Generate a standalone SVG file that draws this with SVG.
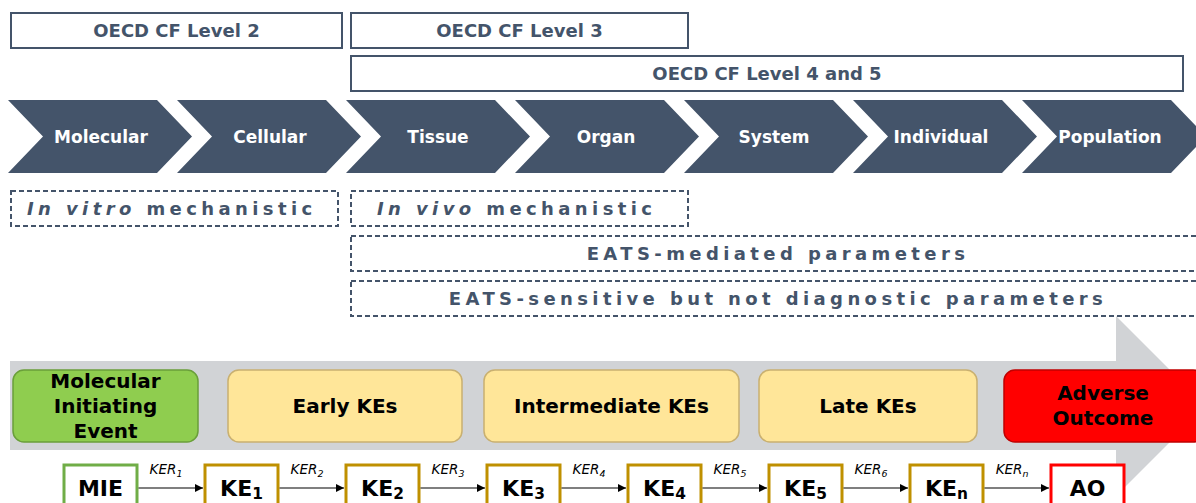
<svg xmlns="http://www.w3.org/2000/svg" width="1196" height="503" viewBox="0 0 1196 503">
<defs>
<style>
.lvl{fill:#fff;stroke:#44546a;stroke-width:2}
.lvlt{font-family:"DejaVu Sans",sans-serif;font-weight:bold;font-size:18px;fill:#44546a;text-anchor:middle}
.chev{fill:#44546a}
.chevt{font-family:"DejaVu Sans",sans-serif;font-weight:bold;font-size:17px;fill:#fff;text-anchor:middle}
.dash{fill:#fff;stroke:#44546a;stroke-width:2;stroke-dasharray:5 3}
.dasht{font-family:"DejaVu Sans",sans-serif;font-weight:bold;font-size:18px;fill:#44546a;letter-spacing:4.4px}
.phase{font-family:"DejaVu Sans",sans-serif;font-weight:bold;font-size:20px;fill:#000;text-anchor:middle}
.ke{fill:#fff;stroke:#bf9000;stroke-width:3}
.ket{font-family:"DejaVu Sans",sans-serif;font-weight:bold;font-size:22px;fill:#000;text-anchor:middle}
.ker{font-family:"DejaVu Sans",sans-serif;font-style:italic;font-size:13.5px;fill:#000;text-anchor:middle}
.sub{font-size:0.7em}
.conn{stroke:#000;stroke-width:1.2;fill:none;marker-end:url(#ah)}
</style>
<marker id="ah" viewBox="0 0 10 10" refX="10" refY="5" markerWidth="8" markerHeight="8" markerUnits="userSpaceOnUse" orient="auto">
<path d="M0,0 L10,5 L0,10 z" fill="#000"/>
</marker>
</defs>
<rect width="1196" height="503" fill="#fff"/>

<g id="level2"><rect class="lvl" x="11" y="13" width="331" height="35"/><text class="lvlt" x="176.5" y="37">OECD CF Level 2</text></g>
<g id="level3"><rect class="lvl" x="351" y="13" width="337" height="35"/><text class="lvlt" x="519.5" y="37">OECD CF Level 3</text></g>
<g id="level45"><rect class="lvl" x="351" y="56" width="832" height="35"/><text class="lvlt" x="767" y="80">OECD CF Level 4 and 5</text></g>

<g id="chev-molecular"><polygon class="chev" points="8,100 157,100 192,136.5 157,173 8,173 43,136.5"/><text class="chevt" x="101" y="143">Molecular</text></g>
<g id="chev-cellular"><polygon class="chev" points="177,100 326,100 361,136.5 326,173 177,173 212,136.5"/><text class="chevt" x="270" y="143">Cellular</text></g>
<g id="chev-tissue"><polygon class="chev" points="346,100 495,100 530,136.5 495,173 346,173 381,136.5"/><text class="chevt" x="438" y="143">Tissue</text></g>
<g id="chev-organ"><polygon class="chev" points="515,100 664,100 699,136.5 664,173 515,173 550,136.5"/><text class="chevt" x="606" y="143">Organ</text></g>
<g id="chev-system"><polygon class="chev" points="684,100 833,100 868,136.5 833,173 684,173 719,136.5"/><text class="chevt" x="774" y="143">System</text></g>
<g id="chev-individual"><polygon class="chev" points="853,100 1002,100 1037,136.5 1002,173 853,173 888,136.5"/><text class="chevt" x="941" y="143">Individual</text></g>
<g id="chev-population"><polygon class="chev" points="1022,100 1171,100 1206,136.5 1171,173 1022,173 1057,136.5"/><text class="chevt" x="1110" y="143">Population</text></g>

<g id="invitro"><rect class="dash" x="11" y="191" width="327" height="35"/><text class="dasht" x="27" y="215"><tspan font-style="italic">In vitro</tspan> mechanistic</text></g>
<g id="invivo"><rect class="dash" x="351" y="191" width="337" height="35"/><text class="dasht" x="377" y="215"><tspan font-style="italic">In vivo</tspan> mechanistic</text></g>
<g id="eats-mediated"><rect class="dash" x="351" y="236" width="860" height="35"/><text class="dasht" x="778" y="260" text-anchor="middle">EATS-mediated parameters</text></g>
<g id="eats-sensitive"><rect class="dash" x="351" y="281" width="860" height="35"/><text class="dasht" x="778" y="305" text-anchor="middle">EATS-sensitive but not diagnostic parameters</text></g>

<g id="aop-arrow"><polygon fill="#d1d3d6" points="10,361 1116,361 1116,316 1206,406 1116,496 1116,450 10,450"/></g>

<g id="phase-mie"><rect x="13" y="370" width="185" height="72" rx="11" fill="#8fcd4f" stroke="#6a9f3a" stroke-width="1.5"/><text class="phase" x="105.5" y="388">Molecular</text><text class="phase" x="105.5" y="413">Initiating</text><text class="phase" x="105.5" y="438">Event</text></g>
<g id="phase-early"><rect x="228" y="370" width="234" height="72" rx="11" fill="#ffe699" stroke="#c9b070" stroke-width="1.5"/><text class="phase" x="345" y="413">Early KEs</text></g>
<g id="phase-intermediate"><rect x="484" y="370" width="255" height="72" rx="11" fill="#ffe699" stroke="#c9b070" stroke-width="1.5"/><text class="phase" x="611.5" y="413">Intermediate KEs</text></g>
<g id="phase-late"><rect x="759" y="370" width="218" height="72" rx="11" fill="#ffe699" stroke="#c9b070" stroke-width="1.5"/><text class="phase" x="868" y="413">Late KEs</text></g>
<g id="phase-ao"><rect x="1004" y="370" width="200" height="72" rx="11" fill="#ff0000" stroke="#c00000" stroke-width="1.5"/><text class="phase" x="1103" y="400">Adverse</text><text class="phase" x="1103" y="425">Outcome</text></g>

<g id="mie"><rect class="ke" x="64" y="465" width="73" height="45" style="stroke:#70ad47"/><text class="ket" x="100.5" y="496">MIE</text></g>
<g id="ke1"><rect class="ke" x="205" y="465" width="73" height="45"/><text class="ket" x="241.5" y="496">KE<tspan class="sub" dy="3">1</tspan></text></g>
<g id="ke2"><rect class="ke" x="346" y="465" width="73" height="45"/><text class="ket" x="382.5" y="496">KE<tspan class="sub" dy="3">2</tspan></text></g>
<g id="ke3"><rect class="ke" x="487" y="465" width="73" height="45"/><text class="ket" x="523.5" y="496">KE<tspan class="sub" dy="3">3</tspan></text></g>
<g id="ke4"><rect class="ke" x="628" y="465" width="73" height="45"/><text class="ket" x="664.5" y="496">KE<tspan class="sub" dy="3">4</tspan></text></g>
<g id="ke5"><rect class="ke" x="769" y="465" width="73" height="45"/><text class="ket" x="805.5" y="496">KE<tspan class="sub" dy="3">5</tspan></text></g>
<g id="ken"><rect class="ke" x="910" y="465" width="73" height="45"/><text class="ket" x="946.5" y="496">KE<tspan class="sub" dy="3">n</tspan></text></g>
<g id="ao"><rect class="ke" x="1051" y="465" width="73" height="45" style="stroke:#ff0000"/><text class="ket" x="1087.5" y="496">AO</text></g>

<g id="connectors">
<line class="conn" x1="138.5" y1="488" x2="203" y2="488"/>
<line class="conn" x1="279.5" y1="488" x2="344" y2="488"/>
<line class="conn" x1="420.5" y1="488" x2="485" y2="488"/>
<line class="conn" x1="561.5" y1="488" x2="626" y2="488"/>
<line class="conn" x1="702.5" y1="488" x2="767" y2="488"/>
<line class="conn" x1="843.5" y1="488" x2="908" y2="488"/>
<line class="conn" x1="984.5" y1="488" x2="1049" y2="488"/>
<text class="ker" x="166" y="474">KER<tspan class="sub" dy="3">1</tspan></text>
<text class="ker" x="307" y="474">KER<tspan class="sub" dy="3">2</tspan></text>
<text class="ker" x="448" y="474">KER<tspan class="sub" dy="3">3</tspan></text>
<text class="ker" x="589" y="474">KER<tspan class="sub" dy="3">4</tspan></text>
<text class="ker" x="730" y="474">KER<tspan class="sub" dy="3">5</tspan></text>
<text class="ker" x="871" y="474">KER<tspan class="sub" dy="3">6</tspan></text>
<text class="ker" x="1012" y="474">KER<tspan class="sub" dy="3">n</tspan></text>
</g>
</svg>
